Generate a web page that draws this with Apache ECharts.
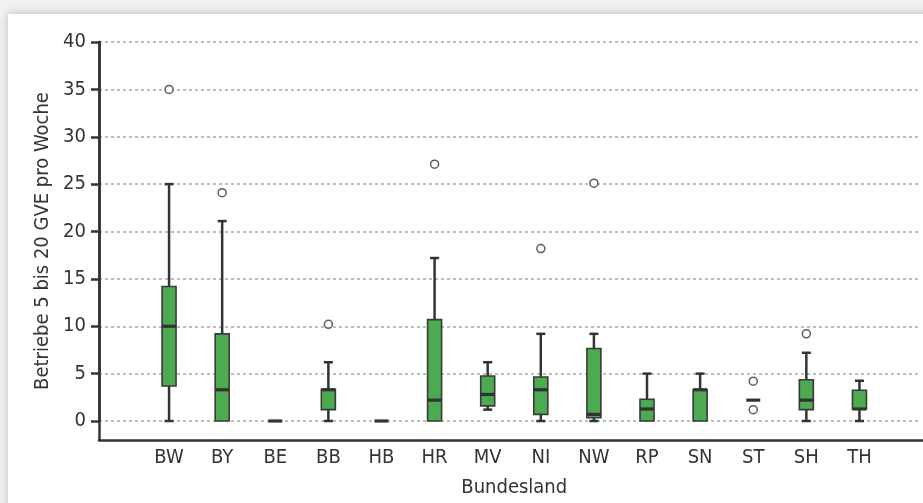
<!DOCTYPE html>
<html>
<head>
<meta charset="utf-8">
<script src="https://cdn.jsdelivr.net/npm/echarts@6/dist/echarts.min.js"></script>
<style>
html,body{margin:0;padding:0;width:923px;height:503px;overflow:hidden;background:#f1f1f1;}
#card{position:absolute;left:8px;top:14px;width:1000px;height:600px;background:#fff;box-shadow:0 0 9px rgba(0,0,0,0.22);}
#chart{position:absolute;left:0;top:0;width:923px;height:503px;}
</style>
</head>
<body>
<div id="card"></div>
<div id="chart"></div>
<script>
// Bundesländer
var categories = ['BW','BY','BE','BB','HB','HR','MV','NI','NW','RP','SN','ST','SH','TH'];
// whisker low, Q1, median, Q3, whisker high
var whiskerLow  = [0,   0,   0, 0,   0, 0,    1.2, 0,   0,    0,   0,   2.2, 0,   0];
var q1          = [3.7, 0,   0, 1.2, 0, 0,    1.6, 0.7, 0.35, 0,   0,   2.2, 1.2, 1.27];
var median      = [10,  3.3, 0, 3.3, 0, 2.2,  2.8, 3.3, 0.7,  1.27,3.3, 2.2, 2.2, 1.27];
var q3          = [14.2,9.2, 0, 3.35,0, 10.7, 4.75,4.65,7.65, 2.3, 3.3, 2.2, 4.35,3.25];
var whiskerHigh = [25,  21.1,0, 6.2, 0, 17.2, 6.2, 9.2, 9.2,  5.0, 5.0, 2.2, 7.2, 4.25];
// outliers: category index and value
var outlierCat   = [0,  1,    3,    5,    7,    8,    11,  11,  12];
var outlierValue = [35, 24.1, 10.2, 27.1, 18.2, 25.1, 4.2, 1.2, 9.2];

var FONT = "'DejaVu Sans Condensed','Liberation Sans',sans-serif";
var TXT = '#333';
var DARK = '#333';

var boxData = categories.map(function(c,i){
  return [i, whiskerLow[i], q1[i], median[i], q3[i], whiskerHigh[i]];
});
var outData = outlierCat.map(function(c,i){ return [c, outlierValue[i]]; });

function renderBox(params, api){
  var i = api.value(0);
  var lo = api.coord([i, api.value(1)]);
  var pq1 = api.coord([i, api.value(2)]);
  var pm = api.coord([i, api.value(3)]);
  var pq3 = api.coord([i, api.value(4)]);
  var hi = api.coord([i, api.value(5)]);
  var x = lo[0];
  var bw = 14, cw = 9;
  var children = [];
  var lineStyle = {stroke: DARK, lineWidth: 2.5};
  if (hi[1] < pq3[1] - 0.5) {
    children.push({type:'line', shape:{x1:x,y1:hi[1],x2:x,y2:pq3[1]}, style:lineStyle});
    children.push({type:'line', shape:{x1:x-cw/2,y1:hi[1],x2:x+cw/2,y2:hi[1]}, style:lineStyle});
  }
  if (lo[1] > pq1[1] + 0.5) {
    children.push({type:'line', shape:{x1:x,y1:pq1[1],x2:x,y2:lo[1]}, style:lineStyle});
    children.push({type:'line', shape:{x1:x-cw/2,y1:lo[1],x2:x+cw/2,y2:lo[1]}, style:lineStyle});
  }
  if (pq1[1] - pq3[1] > 0.5) {
    children.push({type:'rect', shape:{x:x-bw/2,y:pq3[1],width:bw,height:pq1[1]-pq3[1]},
      style:{fill:'#4caa50', stroke:'#3a3a3a', lineWidth:1.6}});
  }
  children.push({type:'line', shape:{x1:x-bw/2,y1:pm[1],x2:x+bw/2,y2:pm[1]}, style:{stroke:DARK,lineWidth:3.2}});
  return {type:'group', children: children};
}

var chart = echarts.init(document.getElementById('chart'), null, {renderer:'canvas'});
chart.setOption({
  animation: false,
  textStyle: {fontFamily: FONT},
  grid: [
    {left: 99, right: 0, top: 42, height: 398},
    {left: 99, right: 2, top: 42, height: 379},
    {left: 142.5, right: 37, top: 42, height: 379}
  ],
  xAxis: [
    {gridIndex:0, type:'value', min:0, max:1, position:'bottom',
      axisLine:{show:true, onZero:false, lineStyle:{color:DARK,width:2.5}},
      axisTick:{show:false}, axisLabel:{show:false}, splitLine:{show:false}},
    {gridIndex:1, type:'value', min:0, max:1, show:false},
    {gridIndex:2, type:'category', data: categories, offset: 19,
      axisLine:{show:false}, axisTick:{show:false},
      axisLabel:{color:TXT, fontSize:20, fontFamily:FONT, margin:8},
      name:'Bundesland', nameLocation:'middle', nameGap:38,
      nameTextStyle:{color:TXT, fontSize:20, fontFamily:FONT}}
  ],
  yAxis: [
    {gridIndex:0, type:'value', min:-2, max:40, position:'left',
      axisLine:{show:true, onZero:false, lineStyle:{color:DARK,width:2.5}},
      axisTick:{show:false}, axisLabel:{show:false}, splitLine:{show:false},
      name:'Betriebe 5 bis 20 GVE pro Woche', nameLocation:'middle', nameGap:46,
      nameTextStyle:{color:TXT, fontSize:20, fontFamily:FONT}},
    {gridIndex:1, type:'value', min:0, max:40, interval:5, position:'left',
      axisLine:{show:true, onZero:false, lineStyle:{color:DARK,width:2.5}},
      axisTick:{show:true, inside:false, length:8, lineStyle:{color:DARK,width:2.5}},
      axisLabel:{color:TXT, fontSize:20, fontFamily:FONT, margin:13},
      splitLine:{show:true, lineStyle:{color:'#a8a8a8', width:1.5, type:[3,3]}}},
    {gridIndex:2, type:'value', min:0, max:40, show:false}
  ],
  series: [
    {type:'custom', xAxisIndex:2, yAxisIndex:2, data: boxData, renderItem: renderBox,
      encode:{x:0, y:[1,2,3,4,5]}, z:5},
    {type:'scatter', xAxisIndex:2, yAxisIndex:2, data: outData, symbol:'circle', symbolSize:8,
      itemStyle:{color:'#fff', borderColor:DARK, borderWidth:1.5}, z:6}
  ]
});
</script>
</body>
</html>
